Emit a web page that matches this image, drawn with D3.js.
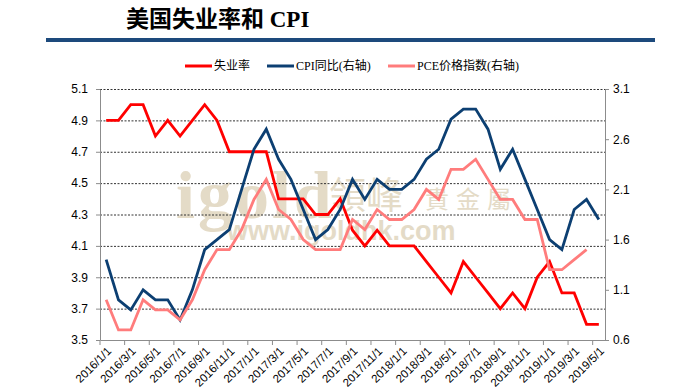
<!DOCTYPE html>
<html>
<head>
	<meta charset="utf-8">
	<title>美国失业率和 CPI</title>
	<script type="text/javascript" src="https://d3js.org/d3.v7.min.js"></script>
	<style>
		body { margin: 0; background: #fff; }
	</style>
</head>
<body>
	<div id="chart"></div>
	<script>
	// monthly categories, 2016/1 - 2019/5
	var months = [
		"2016/1/1","2016/2/1","2016/3/1","2016/4/1","2016/5/1","2016/6/1","2016/7/1","2016/8/1","2016/9/1","2016/10/1","2016/11/1","2016/12/1",
		"2017/1/1","2017/2/1","2017/3/1","2017/4/1","2017/5/1","2017/6/1","2017/7/1","2017/8/1","2017/9/1","2017/10/1","2017/11/1","2017/12/1",
		"2018/1/1","2018/2/1","2018/3/1","2018/4/1","2018/5/1","2018/6/1","2018/7/1","2018/8/1","2018/9/1","2018/10/1","2018/11/1","2018/12/1",
		"2019/1/1","2019/2/1","2019/3/1","2019/4/1","2019/5/1"
	];
	// 失业率 (left axis)
	var unemployment = [4.9,4.9,5.0,5.0,4.8,4.9,4.8,4.9,5.0,4.9,4.7,4.7,
		4.7,4.7,4.4,4.4,4.4,4.3,4.3,4.4,4.2,4.1,4.2,4.1,
		4.1,4.1,4.0,3.9,3.8,4.0,3.9,3.8,3.7,3.8,3.7,3.9,
		4.0,3.8,3.8,3.6,3.6];
	// CPI同比 (right axis)
	var cpi = [1.4,1.0,0.9,1.1,1.0,1.0,0.8,1.1,1.5,1.6,1.7,2.1,
		2.5,2.7,2.4,2.2,1.9,1.6,1.7,1.9,2.2,2.0,2.2,2.1,
		2.1,2.2,2.4,2.5,2.8,2.9,2.9,2.7,2.3,2.5,2.2,1.9,
		1.6,1.5,1.9,2.0,1.8];
	// PCE价格指数 (right axis), ends 2019/4
	var pce = [1.0,0.7,0.7,1.0,0.9,0.9,0.8,1.0,1.3,1.5,1.5,1.7,
		2.0,2.2,1.9,1.8,1.6,1.5,1.5,1.5,1.8,1.7,1.9,1.8,
		1.8,1.9,2.1,2.0,2.3,2.3,2.4,2.2,2.0,2.0,1.8,1.8,
		1.3,1.3,1.4,1.5];

	var leftTicks = [3.5,3.7,3.9,4.1,4.3,4.5,4.7,4.9,5.1];
	var rightTicks = [0.6,1.1,1.6,2.1,2.6,3.1];

	var series = [
		{name: "失业率", values: unemployment, axis: "left", color: "#ff0000"},
		{name: "CPI同比(右轴)", values: cpi, axis: "right", color: "#0c3f72"},
		{name: "PCE价格指数(右轴)", values: pce, axis: "right", color: "#ff7c7c"}
	];

	var width = 700;
	var height = 392;
	var plot = {left: 100, right: 605, top: 89, bottom: 340};

	var svg = d3.select("#chart")
		.append("svg")
		.attr("width", width)
		.attr("height", height);

	// title + rule
	svg.append("text")
		.attr("x", 126)
		.attr("y", 27)
		.attr("font-family", "'Liberation Serif', 'Noto Sans CJK SC', serif")
		.attr("font-weight", "bold")
		.attr("font-size", 23)
		.attr("fill", "#000")
		.text("美国失业率和 CPI");

	svg.append("rect")
		.attr("x", 46)
		.attr("y", 38)
		.attr("width", 609)
		.attr("height", 4)
		.attr("fill", "#1d4a7c");

	var x = d3.scaleBand()
		.domain(months)
		.range([plot.left, plot.right])
		.padding(0);
	var bw = x.bandwidth();

	var yLeft = d3.scaleLinear()
		.domain([3.5, 5.1])
		.range([plot.bottom, plot.top]);

	var yRight = d3.scaleLinear()
		.domain([0.6, 3.1])
		.range([plot.bottom, plot.top]);

	// watermark
	var wm = svg.append("g").attr("fill", "#e4dbc7");
	wm.append("text")
		.attr("x", 176).attr("y", 218)
		.attr("font-family", "'Liberation Serif', serif")
		.attr("font-weight", "bold")
		.attr("font-size", 68)
		.attr("letter-spacing", 3)
		.text("igold");
	wm.append("text")
		.attr("x", 329).attr("y", 209)
		.attr("font-family", "'Noto Sans CJK TC', sans-serif")
		.attr("font-size", 37)
		.text("領峰");
	wm.append("text")
		.attr("x", 425).attr("y", 208)
		.attr("font-family", "'Noto Sans CJK TC', sans-serif")
		.attr("font-size", 24)
		.attr("letter-spacing", 7)
		.text("貴金屬");
	wm.append("text")
		.attr("x", 227).attr("y", 240)
		.attr("font-family", "'Liberation Sans', sans-serif")
		.attr("font-weight", "bold")
		.attr("font-size", 27)
		.text("www.igoldhk.com");

	// dotted gridlines
	svg.append("g")
		.selectAll("line")
		.data(leftTicks.slice(1))
		.enter()
		.append("line")
		.attr("x1", plot.left)
		.attr("x2", plot.right)
		.attr("y1", function(d){ return yLeft(d) + 0.5; })
		.attr("y2", function(d){ return yLeft(d) + 0.5; })
		.attr("stroke", "#333")
		.attr("stroke-width", 1)
		.attr("stroke-dasharray", "2,1.5");

	// left axis
	var gl = svg.append("g")
		.attr("transform", "translate(" + plot.left + ",0)")
		.call(d3.axisLeft(yLeft).tickValues(leftTicks).tickFormat(d3.format(".1f")).tickSize(4).tickSizeOuter(0).tickPadding(8));

	// right axis
	var gr = svg.append("g")
		.attr("transform", "translate(" + plot.right + ",0)")
		.call(d3.axisRight(yRight).tickValues(rightTicks).tickFormat(d3.format(".1f")).tickSize(4).tickSizeOuter(0).tickPadding(4));

	// bottom axis, ticks on category boundaries every 2 months
	var gb = svg.append("g")
		.attr("transform", "translate(0," + plot.bottom + ")")
		.call(d3.axisBottom(x).tickValues(months.filter(function(d, i){ return i % 2 === 0; })).tickSize(5).tickSizeOuter(0));
	gb.selectAll(".tick line")
		.attr("x1", -bw / 2)
		.attr("x2", -bw / 2);
	gb.selectAll(".tick text")
		.attr("text-anchor", "end")
		.attr("y", 0)
		.attr("dy", "0.35em")
		.attr("transform", "translate(3,9) rotate(-45)");

	[gl, gr, gb].forEach(function(g){
		g.select(".domain").attr("stroke", "#8c8c8c");
		g.selectAll(".tick line").attr("stroke", "#8c8c8c");
		g.selectAll(".tick text")
			.attr("font-family", "'Liberation Sans', Arial, sans-serif")
			.attr("font-size", 12)
			.attr("fill", "#000");
	});
	gb.selectAll(".tick text").attr("font-size", 11.5);

	// lines
	series.forEach(function(s){
		var y = s.axis === "left" ? yLeft : yRight;
		var line = d3.line()
			.x(function(d, i){ return x(months[i]) + bw / 2; })
			.y(function(d){ return y(d); });
		svg.append("path")
			.datum(s.values)
			.attr("d", line)
			.attr("fill", "none")
			.attr("stroke", s.color)
			.attr("stroke-width", 2.8)
			.attr("stroke-linejoin", "miter");
	});

	// legend
	var legendX = [185, 267, 388];
	var legend = svg.append("g")
		.selectAll("g")
		.data(series)
		.enter()
		.append("g")
		.attr("transform", function(d, i){ return "translate(" + legendX[i] + ",66)"; });
	legend.append("line")
		.attr("x1", 0)
		.attr("x2", 27)
		.attr("stroke", function(d){ return d.color; })
		.attr("stroke-width", 3);
	legend.append("text")
		.attr("x", 29)
		.attr("dy", "0.35em")
		.attr("font-family", "'Liberation Serif', 'Noto Sans CJK SC', serif")
		.attr("font-size", 12)
		.attr("fill", "#000")
		.text(function(d){ return d.name; });
	</script>
</body>
</html>
